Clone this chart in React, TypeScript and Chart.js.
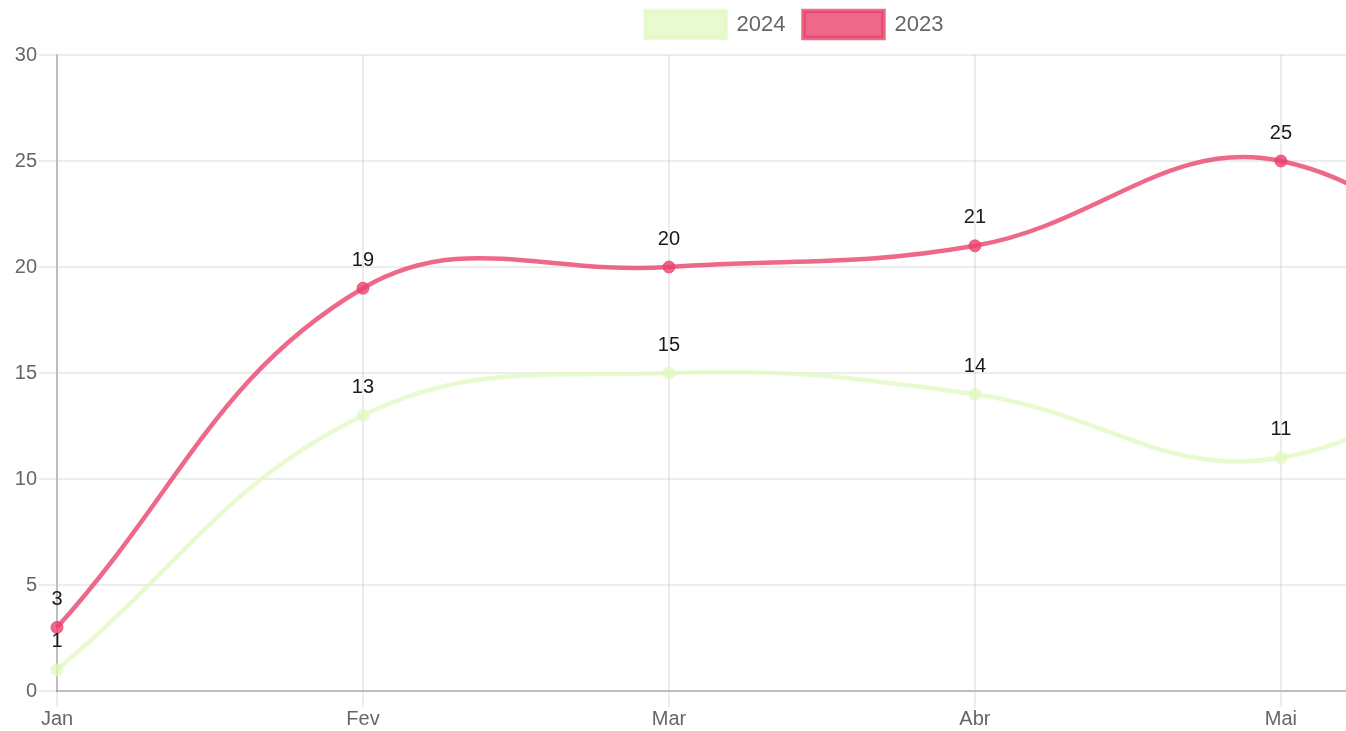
import React, { useEffect, useRef } from "react";
import { Chart, registerables } from "chart.js";

Chart.register(...registerables);

const months = ["Jan", "Fev", "Mar", "Abr", "Mai", "Jun"];
const values2024 = [1, 13, 15, 14, 11, 19];
const values2023 = [3, 19, 20, 21, 25, 15];
const yTicks = [0, 5, 10, 15, 20, 25, 30];

const color2024 = "rgba(225, 248, 190, 0.72)";
const color2023 = "rgba(234, 66, 108, 0.8)";
const FONT = "Arial, 'Liberation Sans', Helvetica, sans-serif";

const dataLabelPlugin = {
  id: "dataLabels",
  afterDatasetsDraw(chart: any) {
    const ctx = chart.ctx;
    ctx.save();
    ctx.font = `20px ${FONT}`;
    ctx.fillStyle = "#1a1a1a";
    ctx.textAlign = "center";
    ctx.textBaseline = "middle";
    chart.data.datasets.forEach((ds: any, i: number) => {
      const meta = chart.getDatasetMeta(i);
      meta.data.forEach((pt: any, j: number) => {
        ctx.fillText(String(ds.data[j]), pt.x, pt.y - 28);
      });
    });
    ctx.restore();
  },
};

const legendSpacePlugin = {
  id: "legendSpace",
  afterInit(chart: any) {
    const lg = chart.legend;
    if (!lg) return;
    const orig = lg.fit.bind(lg);
    lg.fit = () => {
      orig();
      lg.height += 7;
    };
  },
};

export default function App() {
  const ref = useRef<HTMLCanvasElement>(null);
  useEffect(() => {
    if (!ref.current) return;
    const chart = new Chart(ref.current, {
      type: "line",
      data: {
        labels: months,
        datasets: [
          {
            label: "2024",
            data: values2024,
            borderColor: color2024,
            backgroundColor: color2024,
            pointBackgroundColor: color2024,
            pointBorderColor: color2024,
            borderWidth: 4.5,
            pointRadius: 6,
            pointBorderWidth: 1,
            tension: 0.4,
            fill: false,
          },
          {
            label: "2023",
            data: values2023,
            borderColor: color2023,
            backgroundColor: color2023,
            pointBackgroundColor: color2023,
            pointBorderColor: color2023,
            borderWidth: 4.5,
            pointRadius: 6,
            pointBorderWidth: 1,
            tension: 0.4,
            fill: false,
          },
        ],
      },
      options: {
        animation: false,
        responsive: true,
        maintainAspectRatio: false,
        layout: { padding: { top: -7, left: 0, right: 0, bottom: 0 } },
        plugins: {
          legend: {
            display: true,
            position: "top",
            labels: {
              boxWidth: 80,
              boxHeight: 27,
              color: "#666",
              font: { size: 22, family: FONT },
              padding: 18,
            },
          },
          tooltip: { enabled: false },
        },
        scales: {
          x: {
            grid: {
              color: "rgba(0,0,0,0.07)",
              lineWidth: 2,
              tickLength: 16,
            },
            border: { color: "rgba(0,0,0,0.2)", width: 2 },
            ticks: {
              color: "#666",
              font: { size: 20, family: FONT },
              padding: 0,
              maxRotation: 0,
            },
          },
          y: {
            min: 0,
            max: 30,
            afterBuildTicks(scale: any) {
              scale.ticks = yTicks.map((v) => ({ value: v }));
            },
            afterFit(scale: any) {
              scale.width = 71;
            },
            grid: {
              color: "rgba(0,0,0,0.07)",
              lineWidth: 2,
              tickLength: 18,
            },
            border: { color: "rgba(0,0,0,0.2)", width: 2 },
            ticks: {
              color: "#666",
              font: { size: 20, family: FONT },
              padding: 2,
            },
          },
        },
      },
      plugins: [legendSpacePlugin, dataLabelPlugin],
    });
    return () => chart.destroy();
  }, []);

  return (
    <div
      style={{
        position: "fixed",
        left: 0,
        top: 0,
        width: 1346,
        height: 731,
        overflow: "hidden",
        background: "#fff",
      }}
    >
      <div style={{ position: "absolute", left: -14, top: 0, width: 1617, height: 731 }}>
        <canvas ref={ref} />
      </div>
    </div>
  );
}
